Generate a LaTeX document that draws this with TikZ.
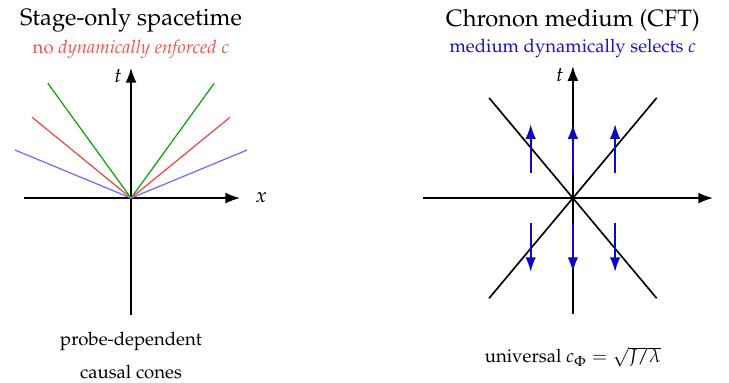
\documentclass[tikz,border=0pt]{standalone}
\usepackage[T1]{fontenc}
\usepackage{mathpazo}
\usetikzlibrary{arrows.meta, positioning, calc}
\definecolor{conegreen}{RGB}{10,165,10}
\definecolor{conered}{RGB}{240,70,70}
\definecolor{coneblue}{RGB}{110,110,250}
\definecolor{notered}{RGB}{250,80,80}
\definecolor{noteblue}{RGB}{20,20,210}
\definecolor{flowblue}{RGB}{10,10,190}

\begin{document}
\begin{tikzpicture}[
    axis/.style={-{Latex[length=2.5mm]}, thick},
    cone/.style={semithick},
    lcone/.style={thick},
    flow/.style={-{Latex[length=2.5mm, width=1.8mm]}, thick, flowblue},
    title/.style={font=\fontsize{11.5}{14}\selectfont},
    note/.style={font=\small, align=center}
]
    \useasboundingbox (-2.236,-3.14) rectangle (10.204,3.38);

    % stage-only spacetime
    \coordinate (o1) at (0,0);
    \coordinate (xl1) at (-1.83,0);
    \coordinate (xr1) at (1.86,0);
    \coordinate (tb1) at (0,-2);
    \coordinate (tt1) at (0,2.22);
    \draw[axis] (xl1) -- (xr1);
    \draw[axis] (tb1) -- (tt1);
    \node[left=1pt of tt1, yshift=-4pt] (t1) {$t$};
    \node[right=4pt of xr1] (x1) {$x$};

    \draw[cone, conegreen] (-1.42,1.96) -- (o1) -- (1.42,1.96);
    \draw[cone, conered] (-1.69,1.38) -- (o1) -- (1.69,1.38);
    \draw[cone, coneblue] (-1.98,0.82) -- (o1) -- (1.98,0.82);

    \node[title] (h1) at (0,3.04) {Stage-only spacetime};
    \node[note, text=notered, below=-3pt of h1] (s1) {no \emph{dynamically enforced} $c$};
    \node[note] (b1) at (0,-2.69) {probe-dependent\\[5pt]causal cones};

    % chronon medium
    \coordinate (o2) at (7.54,0);
    \coordinate (xl2) at ($(o2)+(-2.56,0)$);
    \coordinate (xr2) at ($(o2)+(2.39,0)$);
    \coordinate (tb2) at ($(o2)+(0,-1.98)$);
    \coordinate (tt2) at ($(o2)+(0,2.25)$);
    \draw[axis] (xl2) -- (xr2);
    \draw[axis] (tb2) -- (tt2);
    \node[left=1pt of tt2, yshift=-4pt] (t2) {$t$};
    \node[right=4pt of xr2] (x2) {$x$};

    \draw[lcone] ($(o2)+(-1.43,1.71)$) -- ($(o2)+(1.43,-1.71)$);
    \draw[lcone] ($(o2)+(-1.43,-1.71)$) -- ($(o2)+(1.43,1.71)$);

    \foreach \dx in {-0.72,0,0.72} {
        \draw[flow] ($(o2)+(\dx,0.43)$) -- ($(o2)+(\dx,1.26)$);
        \draw[flow] ($(o2)+(\dx,-0.43)$) -- ($(o2)+(\dx,-1.26)$);
    }

    \node[title] (h2) at ($(o2)+(0,3.04)$) {Chronon medium (CFT)};
    \node[note, text=noteblue, below=-3pt of h2] (s2) {medium dynamically selects $c$};
    \node[note] (b2) at ($(o2)+(0,-2.71)$) {universal $c_\Phi = \sqrt{J/\lambda}$};
\end{tikzpicture}
\end{document}
